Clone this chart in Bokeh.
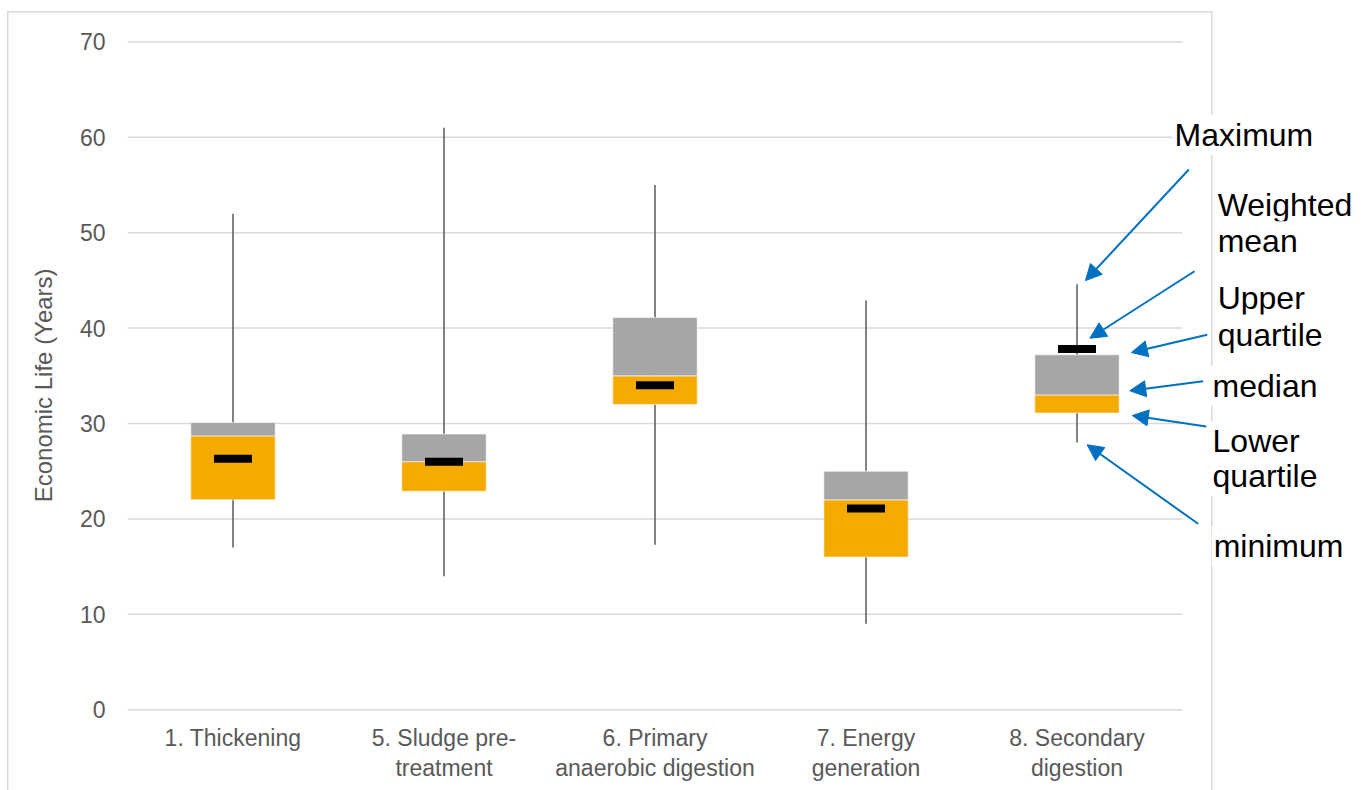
from bokeh.plotting import figure
from bokeh.models import Range1d, FixedTicker, Label, Arrow, NormalHead
from bokeh.embed import file_html
from bokeh.resources import INLINE

# Economic life of sludge treatment assets (years)
categories = [
    "1. Thickening",
    "5. Sludge pre-\ntreatment",
    "6. Primary\nanaerobic digestion",
    "7. Energy\ngeneration",
    "8. Secondary\ndigestion",
]
minimum = [17.0, 14.0, 17.3, 9.0, 28.0]
lower_quartile = [22.0, 22.9, 32.0, 16.0, 31.1]
median = [28.7, 26.0, 35.0, 22.0, 33.0]
upper_quartile = [30.1, 28.9, 41.1, 25.0, 37.2]
maximum = [52.0, 61.0, 55.0, 42.9, 44.6]
weighted_mean = [26.3, 26.0, 34.0, 21.1, 37.8]
y_ticks = [0, 10, 20, 30, 40, 50, 60, 70]

n = len(categories)
xs = [i + 0.5 for i in range(n)]

FONT = "Liberation Sans"
GREY_TEXT = "#595959"
GRID = "#D9D9D9"
ORANGE = "#F5AA00"
GREY_BOX = "#A6A6A6"
BLUE = "#0070C0"

# the plotting frame runs on to the right edge so the callouts sit inside it
p = figure(
    width=1366, height=790,
    x_range=Range1d(0, 5.872), y_range=Range1d(-0.5, 71.3),
    output_backend="svg", toolbar_location=None,
    min_border_left=127, min_border_right=0,
    min_border_top=29, min_border_bottom=76,
)
p.outline_line_color = None
p.background_fill_color = None
p.border_fill_color = None

# light outer chart frame behind the canvas
p.styles = {
    "background-color": "white",
    "background-image": (
        f"linear-gradient({GRID}, {GRID}), "
        f"linear-gradient({GRID}, {GRID}), "
        f"linear-gradient({GRID}, {GRID})"
    ),
    "background-size": "1.5px 790px, 1205.5px 1.5px, 1.5px 790px",
    "background-position": "7px 11px, 7px 11px, 1211px 11px",
    "background-repeat": "no-repeat",
}

# horizontal grid limited to the category area
p.xgrid.visible = False
p.ygrid.visible = False
p.segment(x0=[0] * len(y_ticks), y0=y_ticks, x1=[n] * len(y_ticks), y1=y_ticks,
          line_color=GRID, line_width=1.5)

p.yaxis.ticker = FixedTicker(ticks=y_ticks)
p.yaxis.axis_line_color = None
p.yaxis.major_tick_line_color = None
p.yaxis.major_tick_out = 0
p.yaxis.minor_tick_line_color = None
p.yaxis.major_label_text_font = FONT
p.yaxis.major_label_text_font_size = "23px"
p.yaxis.major_label_text_color = GREY_TEXT
p.yaxis.major_label_standoff = 22
# trailing no-break spaces nudge the rotated title down along the axis
p.yaxis.axis_label = "Economic Life (Years)" + "\u00a0" * 4
p.yaxis.axis_label_text_font = FONT
p.yaxis.axis_label_text_font_size = "24px"
p.yaxis.axis_label_text_font_style = "normal"
p.yaxis.axis_label_text_color = GREY_TEXT
p.yaxis.axis_label_standoff = 20

p.xaxis.ticker = FixedTicker(ticks=xs)
p.xaxis.major_label_overrides = {x: c for x, c in zip(xs, categories)}
p.xaxis.axis_line_color = None
p.xaxis.major_tick_line_color = None
p.xaxis.major_tick_out = 0
p.xaxis.minor_tick_line_color = None
p.xaxis.major_label_text_font = FONT
p.xaxis.major_label_text_font_size = "23px"
p.xaxis.major_label_text_color = GREY_TEXT
p.xaxis.major_label_text_line_height = 1.16
p.xaxis.major_label_standoff = 10

# whiskers, boxes and weighted-mean markers
p.segment(x0=xs, y0=minimum, x1=xs, y1=maximum, line_color=GREY_TEXT, line_width=1.5)
p.vbar(x=xs, bottom=lower_quartile, top=median, width=0.4,
       fill_color=ORANGE, line_color="white", line_alpha=0.6, line_width=1)
p.vbar(x=xs, bottom=median, top=upper_quartile, width=0.4,
       fill_color=GREY_BOX, line_color="white", line_alpha=0.6, line_width=1)
p.rect(x=xs, y=weighted_mean, width=0.18, height=8, height_units="screen",
       fill_color="black", line_color=None)

# legend callouts
callouts = [
    ("Maximum", 4.953, 60.21),
    ("Weighted", 5.157, 52.95),
    ("mean", 5.157, 49.10),
    ("Upper", 5.157, 43.20),
    ("quartile", 5.157, 39.32),
    ("median", 5.133, 33.91),
    ("Lower", 5.133, 28.14),
    ("quartile", 5.133, 24.48),
    ("minimum", 5.138, 17.14),
]
for text, lx, ly in callouts:
    p.add_layout(Label(
        x=lx, y=ly, text=text, text_font=FONT, text_font_size="32px",
        text_color="black", text_baseline="alphabetic", text_align="left",
        background_fill_color="white", padding=2,
    ))

arrows = [
    (5.030, 56.62, 4.540, 44.98),
    (5.057, 45.96, 4.561, 38.94),
    (5.117, 39.30, 4.758, 37.44),
    (5.098, 34.43, 4.750, 33.43),
    (5.112, 29.69, 4.762, 30.84),
    (5.074, 19.49, 4.548, 27.77),
]
for x0, y0, x1, y1 in arrows:
    p.add_layout(Arrow(
        x_start=x0, y_start=y0, x_end=x1, y_end=y1,
        line_color=BLUE, line_width=2,
        end=NormalHead(size=16, fill_color=BLUE, line_color=BLUE),
    ))

open("out.html", "w").write(file_html(p, INLINE))
